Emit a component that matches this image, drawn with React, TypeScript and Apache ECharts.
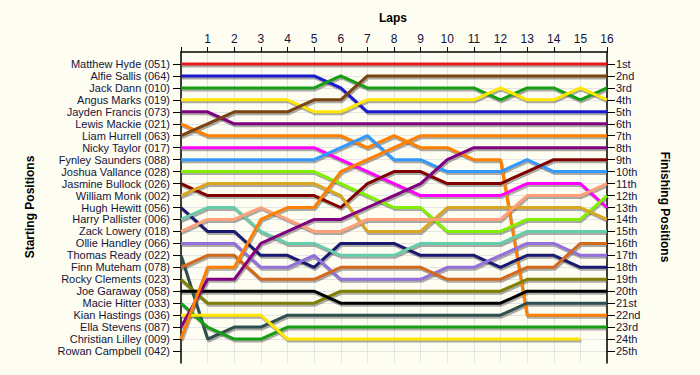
import React, { useEffect, useRef } from "react";
import * as echarts from "echarts";

const drivers = [
  "Matthew Hyde (051)", "Alfie Sallis (064)", "Jack Dann (010)", "Angus Marks (019)",
  "Jayden Francis (073)", "Lewis Mackie (021)", "Liam Hurrell (063)", "Nicky Taylor (017)",
  "Fynley Saunders (088)", "Joshua Vallance (028)", "Jasmine Bullock (026)", "William Monk (002)",
  "Hugh Hewitt (056)", "Harry Pallister (006)", "Zack Lowery (018)", "Ollie Handley (066)",
  "Thomas Ready (022)", "Finn Muteham (078)", "Rocky Clements (023)", "Joe Garaway (058)",
  "Macie Hitter (033)", "Kian Hastings (036)", "Ella Stevens (087)", "Christian Lilley (009)",
  "Rowan Campbell (042)",
];

const finishLabels = [
  "1st", "2nd", "3rd", "4th", "5th", "6th", "7th", "8th", "9th", "10th", "11th", "12th", "13th",
  "14th", "15th", "16th", "17th", "18th", "19th", "20th", "21st", "22nd", "23rd", "24th", "25th",
];

const laps = [0, 1, 2, 3, 4, 5, 6, 7, 8, 9, 10, 11, 12, 13, 14, 15, 16];

// position of each driver at each lap (lap 0 = start)
const posMatthewHyde = [1, 1, 1, 1, 1, 1, 1, 1, 1, 1, 1, 1, 1, 1, 1, 1, 1];
const posAlfieSallis = [2, 2, 2, 2, 2, 2, 3, 5, 5, 5, 5, 5, 5, 5, 5, 5, 5];
const posJackDann = [3, 3, 3, 3, 3, 3, 2, 3, 3, 3, 3, 3, 4, 3, 3, 4, 3];
const posAngusMarks = [4, 4, 4, 4, 4, 5, 5, 4, 4, 4, 4, 4, 3, 4, 4, 3, 4];
const posJaydenFrancis = [5, 5, 6, 6, 6, 6, 6, 6, 6, 6, 6, 6, 6, 6, 6, 6, 6];
const posLewisMackie = [6, 7, 7, 7, 7, 7, 7, 8, 7, 8, 8, 9, 9, 22, 22, 22, 22];
const posLiamHurrell = [7, 6, 5, 5, 5, 4, 4, 2, 2, 2, 2, 2, 2, 2, 2, 2, 2];
const posNickyTaylor = [8, 8, 8, 8, 8, 8, 9, 10, 11, 12, 12, 12, 12, 11, 11, 11, 13];
const posFynleySaunders = [9, 9, 9, 9, 9, 9, 8, 7, 9, 9, 10, 10, 10, 9, 10, 10, 10];
const posJoshuaVallance = [10, 10, 10, 10, 10, 10, 11, 12, 13, 13, 15, 15, 15, 14, 14, 14, 12];
const posJasmineBullock = [11, 12, 12, 12, 12, 12, 13, 11, 10, 10, 11, 11, 11, 10, 9, 9, 9];
const posWilliamMonk = [12, 11, 11, 11, 11, 11, 12, 15, 15, 15, 13, 13, 13, 13, 13, 13, 14];
const posHughHewitt = [13, 15, 15, 17, 17, 18, 16, 16, 16, 17, 17, 17, 18, 17, 17, 18, 18];
const posHarryPallister = [14, 13, 13, 15, 16, 16, 17, 17, 17, 16, 16, 16, 16, 15, 15, 15, 15];
const posZackLowery = [15, 14, 14, 13, 14, 15, 15, 14, 14, 14, 14, 14, 14, 12, 12, 12, 11];
const posOllieHandley = [16, 16, 16, 18, 18, 17, 19, 19, 19, 19, 18, 18, 17, 16, 16, 17, 17];
const posThomasReady = [17, 24, 23, 23, 22, 22, 22, 22, 22, 22, 22, 22, 22, 21, 21, 21, 21];
const posFinnMuteham = [18, 17, 17, 19, 19, 19, 18, 18, 18, 18, 19, 19, 19, 18, 18, 16, 16];
const posRockyClements = [19, 21, 21, 21, 21, 21, 20, 20, 20, 20, 20, 20, 20, 19, 19, 19, 19];
const posJoeGaraway = [20, 20, 20, 20, 20, 20, 21, 21, 21, 21, 21, 21, 21, 20, 20, 20, 20];
const posMacieHitter = [21, 23, 24, 24, 23, 23, 23, 23, 23, 23, 23, 23, 23, 23, 23, 23, 23];
const posKianHastings = [22, 22, 22, 22, 24, 24, 24, 24, 24, 24, 24, 24, 24, 24, 24, 24];
const posEllaStevens = [23, 19, 19, 16, 15, 14, 14, 13, 12, 11, 9, 8, 8, 8, 8, 8, 8];
const posChristianLilley = [24, 18, 18, 14, 13, 13, 10, 9, 8, 7, 7, 7, 7, 7, 7, 7, 7];
const posRowanCampbell: number[] = [];

const positions = [
  posMatthewHyde, posAlfieSallis, posJackDann, posAngusMarks, posJaydenFrancis, posLewisMackie,
  posLiamHurrell, posNickyTaylor, posFynleySaunders, posJoshuaVallance, posJasmineBullock,
  posWilliamMonk, posHughHewitt, posHarryPallister, posZackLowery, posOllieHandley,
  posThomasReady, posFinnMuteham, posRockyClements, posJoeGaraway, posMacieHitter,
  posKianHastings, posEllaStevens, posChristianLilley, posRowanCampbell,
];

const colors = [
  "#e8181c", "#1a1ad2", "#169e16", "#ffe600", "#800080", "#ff8000", "#7a4412", "#ff00ff",
  "#3399ff", "#80f000", "#800000", "#daa520", "#191970", "#66cdaa", "#ffa07a", "#9370db",
  "#2f4f4f", "#d2691e", "#808000", "#000000", "#169e16", "#ffe600", "#800080", "#ff8000",
  "#e8181c",
];

const rows = drivers.map((_, i) => i + 1);
const textColor = "#14143c";

export default function App() {
  const ref = useRef<HTMLDivElement>(null);
  useEffect(() => {
    const chart = echarts.init(ref.current!, null, { renderer: "svg" });
    const shadowSeries = drivers.map((name, i) => ({
      name: name + " shadow",
      type: "line",
      xAxisIndex: 1,
      yAxisIndex: 2,
      data: positions[i].map((p, j) => [laps[j], p]),
      showSymbol: false,
      symbol: "none",
      silent: true,
      lineStyle: { width: 3, color: "rgba(70,70,70,0.45)" },
      emphasis: { disabled: true },
      z: 2,
    }));
    const series = drivers.map((name, i) => ({
      name,
      type: "line",
      xAxisIndex: 0,
      yAxisIndex: 0,
      data: positions[i].map((p, j) => [laps[j], p]),
      showSymbol: false,
      symbol: "none",
      lineStyle: { width: 3, color: colors[i] },
      emphasis: { disabled: true },
      z: 3,
    }));
    const fontFamily = "Liberation Sans, Arial";
    chart.setOption({
      animation: false,
      backgroundColor: "#fefdf1",
      grid: [
        { left: 181, right: 93, top: 52, bottom: 12 },
        { left: 182, right: 92, top: 54, bottom: 10 },
      ],
      xAxis: [
        {
          type: "value",
          gridIndex: 0,
          position: "top",
          min: 0,
          max: 16,
          interval: 1,
          axisLine: { lineStyle: { color: "#000", width: 1.5 } },
          axisTick: { show: true, length: 5, lineStyle: { color: "#000" } },
          axisLabel: {
            margin: 7,
            fontFamily,
            fontSize: 12,
            color: textColor,
            formatter: (v: number) => (v === 0 ? "" : String(v)),
          },
          splitLine: { show: true, lineStyle: { color: "#e4e4e4", width: 1 } },
          z: 1,
        },
        {
          type: "value",
          gridIndex: 1,
          min: 0,
          max: 16,
          interval: 1,
          show: false,
        },
      ],
      yAxis: [
        {
          type: "value",
          gridIndex: 0,
          inverse: true,
          min: 0,
          max: 26,
          interval: 1,
          position: "left",
          axisLine: { show: true, lineStyle: { color: "#000", width: 1.5 } },
          axisTick: { show: true, length: 8, customValues: rows, lineStyle: { color: "#000" } },
          axisLabel: {
            margin: 11,
            fontFamily,
            fontSize: 11,
            color: textColor,
            customValues: rows,
            formatter: (v: number) => drivers[v - 1] ?? "",
          },
          splitLine: { show: true, lineStyle: { color: "#e4e4e4", width: 1 } },
          z: 1,
        },
        {
          type: "value",
          gridIndex: 0,
          inverse: true,
          min: 0,
          max: 26,
          interval: 1,
          position: "right",
          axisLine: { show: true, lineStyle: { color: "#000", width: 1.5 } },
          axisTick: { show: true, length: 8, customValues: rows, lineStyle: { color: "#000" } },
          axisLabel: {
            margin: 9,
            fontFamily,
            fontSize: 11,
            color: textColor,
            customValues: rows,
            formatter: (v: number) => finishLabels[v - 1] ?? "",
          },
          splitLine: { show: false },
          z: 1,
        },
        {
          type: "value",
          gridIndex: 1,
          inverse: true,
          min: 0,
          max: 26,
          interval: 1,
          show: false,
        },
      ],
      graphic: [
        {
          type: "text",
          x: 393,
          y: 18,
          style: {
            text: "Laps",
            font: "bold 12px Liberation Sans, Arial",
            fill: "#000",
            align: "center",
            verticalAlign: "middle",
          },
        },
        {
          type: "text",
          x: 30,
          y: 207,
          rotation: Math.PI / 2,
          style: {
            text: "Starting Positions",
            font: "bold 12px Liberation Sans, Arial",
            fill: "#000",
            align: "center",
            verticalAlign: "middle",
          },
        },
        {
          type: "text",
          x: 665,
          y: 207,
          rotation: -Math.PI / 2,
          style: {
            text: "Finishing Positions",
            font: "bold 12px Liberation Sans, Arial",
            fill: "#000",
            align: "center",
            verticalAlign: "middle",
          },
        },
      ],
      series: [...shadowSeries, ...series],
    });
    return () => chart.dispose();
  }, []);
  return (
    <div
      ref={ref}
      style={{ position: "fixed", left: 0, top: 0, width: 700, height: 375 }}
    />
  );
}
